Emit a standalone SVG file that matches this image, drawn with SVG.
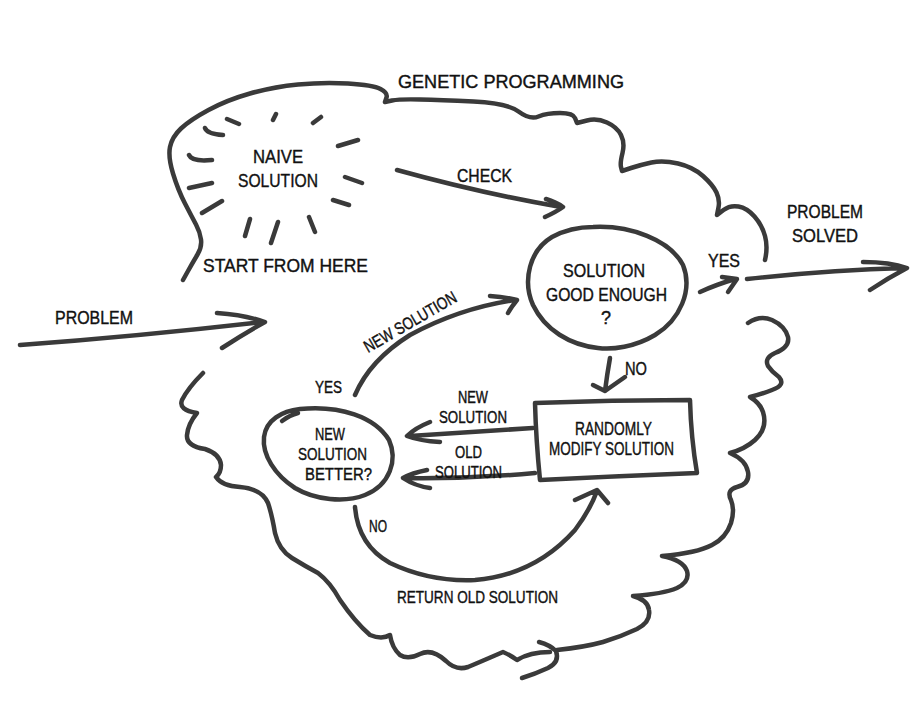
<svg xmlns="http://www.w3.org/2000/svg" width="914" height="728" viewBox="0 0 914 728">
<style>
.ln{fill:none;stroke:#3a3a3a;stroke-width:4.5;stroke-linecap:round;stroke-linejoin:round}
.nd{fill:none;stroke:#3a3a3a;stroke-width:4.5;stroke-linecap:round;stroke-linejoin:round}
text{font-family:"Liberation Sans",Arial,sans-serif;fill:#111111;stroke:#111111;stroke-width:0.4}
.t18{font-size:18px}
.t17{font-size:17px}
.t16{font-size:16px}
.t19{font-size:19px}
</style>
<rect width="914" height="728" fill="#ffffff"/>

<g id="cloud">
<path class="ln" d="M183,280 L188,271 Q193,262 197.5,254.5 Q202,247 201,239.5 Q200,232 196,224.5 Q192,217 185,203.5 Q178,190 173,173.5 Q168,157 170,147 Q172,137 181,128.5 Q190,120 208.5,110 Q227,100 250,93.5 Q273,87 298,84.5 Q323,82 348,83.5 Q373,85 380.5,89 Q388,93 386.5,97.5 L385,102 L392,100.5 Q400,99 420,99.5 Q440,100 473.5,101.5 Q507,103 518.5,111.5 Q530,120 538.5,116.5 Q547,113 560,113 Q573,113 575,118 L577,123 L587,120.5 Q597,118 607,122.5 Q617,127 621,135 Q625,143 622.5,153 Q620,163 621,167 L622,171 L631,168 Q640,165 651.5,162.5 Q663,160 678,163.5 Q693,167 703,176 Q713,185 716.5,192.5 Q720,200 718.5,207.5 L717,215 L723.5,210 Q730,205 738.5,206.5 Q747,208 754.5,216.5 Q762,225 765,236 Q768,247 765,260"/>
<path class="ln" d="M748,323 Q760,315 772,320 Q785,326 788,337 Q790,347 775,353 Q764,358 768,366 Q772,372 779,377 Q786,385 772,390 Q762,394 750,397 Q760,403 763,412 Q768,428 755,440 Q745,449 730,453 Q746,460 748,472 Q750,484 737,487 Q726,490 731,500 Q735,510 731,523 Q726,538 712,545 Q697,553 662,556 Q683,560 687,571 Q690,582 677,588 Q663,594 633,596 Q648,600 649,610 Q651,622 637,629 Q620,637 603,642 Q585,647 557,650"/>
<path class="ln" d="M203,373 Q188,388 182,400 Q178,410 197,413 Q188,424 187,435 Q186,446 205,449 Q220,454 221,465 Q221,473 216,477 Q222,486 240,487 Q262,489 268,503 Q272,515 275,533 Q279,550 292,558 Q305,566 318,573 Q330,582 340,600 Q355,622 370,635 Q382,640 390,635 Q392,648 400,655 Q408,660 420,654 Q432,648 446,661 Q456,671 468,667 Q480,662 503,652 Q510,655 517,660 Q530,652 550,652"/>
<path class="ln" d="M539,642 Q550,645 556,651 Q560,662 548,668 Q535,674 522,678"/>
<text class="t18" x="398" y="88" textLength="226" lengthAdjust="spacingAndGlyphs">GENETIC PROGRAMMING</text>
</g>

<g id="naive">
<path class="ln" d="M205,128 Q207,134 223,135 M227,119 L239,124 M273,120 L276,114 M313,123 L321,117 M338,146 L358,140 M189,155 Q192,162 212,160 M189,188 L212,183 M345,177 L362,183 M202,213 L222,201 M333,200 L349,205 M250,219 L245,236 M278,222 L271,243 M309,217 L315,232"/>
<text class="t19" x="253" y="163" textLength="50" lengthAdjust="spacingAndGlyphs">NAIVE</text>
<text class="t19" x="238" y="187" textLength="80" lengthAdjust="spacingAndGlyphs">SOLUTION</text>
<text class="t18" x="203" y="272" textLength="165" lengthAdjust="spacingAndGlyphs">START FROM HERE</text>
</g>

<g id="good-enough">
<path class="nd" d="M593,227 C630,225 670,240 683,265 C693,290 680,320 655,335 C635,347 612,350 598,348 C570,345 545,330 533,305 C522,280 530,250 552,237 C565,230 578,227 593,227 Z"/>
<text class="t18" x="563" y="277" textLength="82" lengthAdjust="spacingAndGlyphs">SOLUTION</text>
<text class="t18" x="546" y="301" textLength="121" lengthAdjust="spacingAndGlyphs">GOOD ENOUGH</text>
<text class="t18" x="601" y="324">?</text>
</g>

<g id="randomly-modify">
<path class="nd" d="M535,403 Q612,400 690,400 Q691,438 697,473 Q620,476 540,480 Q536,440 535,403 Z"/>
<text class="t18" x="575" y="435" textLength="77" lengthAdjust="spacingAndGlyphs">RANDOMLY</text>
<text class="t18" x="549" y="455" textLength="125" lengthAdjust="spacingAndGlyphs">MODIFY SOLUTION</text>
</g>

<g id="better">
<path class="nd" d="M300,409 C340,405 375,417 389,440 C398,460 390,485 365,495 C345,503 315,500 295,488 C275,475 262,455 264,437 C266,420 282,411 300,409 Z M282,421 Q290,415 298,413"/>
<text class="t17" x="315" y="440" textLength="30" lengthAdjust="spacingAndGlyphs">NEW</text>
<text class="t17" x="298" y="460" textLength="69" lengthAdjust="spacingAndGlyphs">SOLUTION</text>
<text class="t17" x="305" y="480" textLength="67" lengthAdjust="spacingAndGlyphs">BETTER?</text>
</g>

<g id="connectors">
<path class="ln" d="M20,345 Q140,336 262,322 M217,313 Q245,315 265,322 Q245,333 222,348"/>
<text class="t18" x="55" y="324" textLength="78" lengthAdjust="spacingAndGlyphs">PROBLEM</text>

<path class="ln" d="M397,170 Q480,193 561,207 M546,199 Q556,202 563,207 Q556,212 545,217"/>
<text class="t18" x="457" y="182" textLength="55" lengthAdjust="spacingAndGlyphs">CHECK</text>

<path class="ln" d="M700,292 Q715,285 735,279 M722,277 L737,279 L728,292"/>
<path class="ln" d="M747,279 Q830,270 905,268 M863,262 Q890,262 907,268 Q888,278 870,290"/>
<text class="t18" x="708" y="267" textLength="32" lengthAdjust="spacingAndGlyphs">YES</text>
<text class="t18" x="787" y="218" textLength="76" lengthAdjust="spacingAndGlyphs">PROBLEM</text>
<text class="t18" x="792" y="242" textLength="66" lengthAdjust="spacingAndGlyphs">SOLVED</text>

<path class="ln" d="M610,358 Q607,375 605,391 M593,385 L605,391 L625,377"/>
<text class="t18" x="625" y="375" textLength="22" lengthAdjust="spacingAndGlyphs">NO</text>

<path class="ln" d="M533,428 Q470,432 410,436 M430,422 Q415,428 407,436 Q420,441 440,442"/>
<text class="t16" x="458" y="403" textLength="30" lengthAdjust="spacingAndGlyphs">NEW</text>
<text class="t16" x="439" y="423" textLength="68" lengthAdjust="spacingAndGlyphs">SOLUTION</text>

<path class="ln" d="M535,473 Q470,479 404,478 M427,470 Q412,473 403,478 Q415,486 430,488"/>
<text class="t16" x="455" y="458" textLength="27" lengthAdjust="spacingAndGlyphs">OLD</text>
<text class="t16" x="435" y="478" textLength="67" lengthAdjust="spacingAndGlyphs">SOLUTION</text>

<path class="ln" d="M355,395 Q370,360 410,335 Q460,308 515,300 M490,296 Q505,297 517,300 Q512,306 508,313"/>
<text class="t16" x="315" y="393" textLength="27" lengthAdjust="spacingAndGlyphs">YES</text>
<text class="t17" x="368" y="353" textLength="104" lengthAdjust="spacingAndGlyphs" transform="rotate(-30 368 353)">NEW SOLUTION</text>

<path class="ln" d="M355,507 Q358,545 390,563 Q430,582 475,580 Q535,575 575,530 Q590,510 597,491 M575,500 L597,490 L608,503"/>
<text class="t16" x="369" y="532" textLength="18" lengthAdjust="spacingAndGlyphs">NO</text>
<text class="t17" x="397" y="603" textLength="161" lengthAdjust="spacingAndGlyphs">RETURN OLD SOLUTION</text>
</g>
</svg>
